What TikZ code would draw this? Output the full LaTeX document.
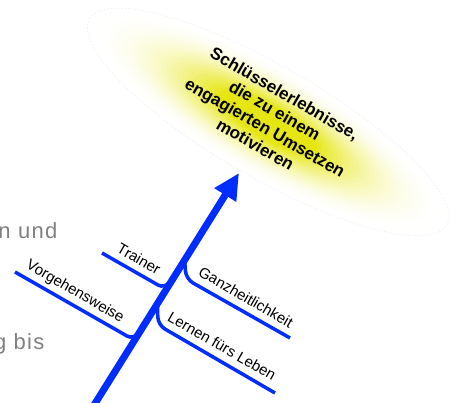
\documentclass[tikz,border=0pt]{standalone}
\usepackage{fontspec}
\setmainfont{Liberation Sans}
\usepackage{tikz}
\usetikzlibrary{arrows.meta}
\definecolor{branchblue}{RGB}{0,45,255}
\definecolor{glowyellow}{RGB}{228,228,0}
\definecolor{slidegray}{RGB}{128,128,128}

\begin{document}
\begin{tikzpicture}[x=1pt,y=1pt,
	trunk/.style={line width=7pt, draw=branchblue, -{Triangle[width=24pt,length=26pt]}},
	twig/.style={line width=3.5pt, draw=branchblue, rounded corners=8pt},
	twiglabel/.style={rotate=-30, font=\fontsize{15}{17}\selectfont, inner sep=0pt},
	goaltext/.style={rotate=-30, align=center, font=\bfseries\fontsize{17}{19.5}\selectfont},
	slidetext/.style={anchor=base east, text=slidegray, font=\fontsize{22}{26}\selectfont\addfontfeatures{LetterSpace=6}}]
	\useasboundingbox (0,0) rectangle (450,403);
	\coordinate (glow) at (268,281);
	\foreach \k in {0,...,24}{
		\pgfmathsetmacro\gl{92*(\k/24)^2}
		\fill[glowyellow!\gl!white] (glow) circle [x radius={200-6*\k}, y radius={55-1.6*\k}, rotate=-30];
	}
	\draw[black!6, dash pattern=on 1.5pt off 2pt, line width=0.8pt] (glow) circle [x radius=206, y radius=56, rotate=-30];
	\node[goaltext] (goal) at (270,284) {Schlüsselerlebnisse,\\die zu einem\\engagierten Umsetzen\\motivieren};
	\coordinate (root) at (91,-7);
	\coordinate (tip) at (239,230);
	\draw[trunk] (root) -- (tip);
	\coordinate (vorg) at (15,131); \coordinate (vorgk) at (134,63); \coordinate (vorgj) at (149,88);
	\coordinate (train) at (102,150); \coordinate (traink) at (165,114); \coordinate (trainj) at (174,128);
	\coordinate (ganzj) at (184.5,145); \coordinate (ganzk) at (186,124); \coordinate (ganz) at (290,65);
	\coordinate (lernj) at (157.4,101); \coordinate (lernk) at (158,78); \coordinate (lern) at (275,10);
	\draw[twig] (vorg) -- (vorgk) -- (vorgj);
	\draw[twig] (train) -- (traink) -- (trainj);
	\draw[twig] (ganzj) -- (ganzk) -- (ganz);
	\draw[twig] (lernj) -- (lernk) -- (lern);
	\node[twiglabel] (trainer) at (139,144) {Trainer};
	\node[twiglabel] (vorgehen) at (75,111) {Vorgehensweise};
	\node[twiglabel] (ganzheit) at (246,106) {Ganzheitlichkeit};
	\node[twiglabel] (lernen) at (222,57) {Lernen fürs Leben};
	\node[slidetext] (und) at (61,164) {n und};
	\node[slidetext] (bis) at (48,53) {g bis};
	%\draw [brown] (current bounding box.south west) rectangle (current bounding box.north east);
\end{tikzpicture}
\end{document}
